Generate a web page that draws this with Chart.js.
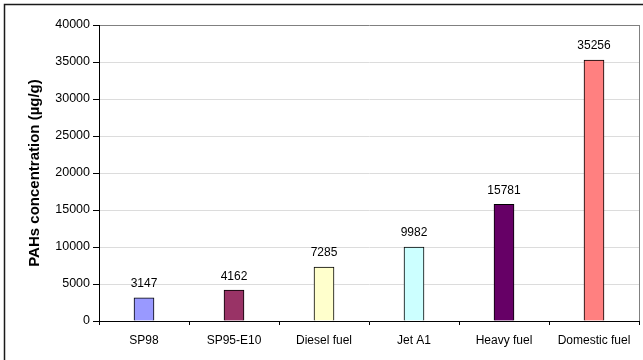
<!DOCTYPE html>
<html><head><meta charset="utf-8">
<script src="https://cdn.jsdelivr.net/npm/chart.js@4/dist/chart.umd.min.js"></script>
<style>html,body{margin:0;padding:0;background:#fff;}#wrap{width:643px;height:360px;}</style>
</head><body><div id="wrap"><canvas id="c" width="643" height="360"></canvas></div>
<script>
const categories = ["SP98", "SP95-E10", "Diesel fuel", "Jet A1", "Heavy fuel", "Domestic fuel"];
const values = [3147, 4162, 7285, 9982, 15781, 35256];
const barColors = ["#9999FF", "#993366", "#FFFFCC", "#CCFFFF", "#660066", "#FF8080"];
const yTicks = [0, 5000, 10000, 15000, 20000, 25000, 30000, 35000, 40000];
const yTitle = "PAHs concentration (µg/g)";

const FONT = "Arial, 'Liberation Sans', sans-serif";

const framePlugin = {
  id: 'frame',
  beforeDraw(chart) {
    const c = chart.ctx;
    c.save();
    c.fillStyle = '#fff';
    c.fillRect(0, 0, chart.width, chart.height);
    c.restore();
  },
  afterDraw(chart) {
    const c = chart.ctx, a = chart.chartArea;
    c.save();
    c.strokeStyle = '#808080';
    c.lineWidth = 1;
    c.beginPath();
    c.moveTo(Math.round(a.right) + 0.5, a.top);
    c.lineTo(Math.round(a.right) + 0.5, a.bottom);
    c.stroke();
    c.strokeStyle = '#1a1a1a';
    c.lineWidth = 1.5;
    c.strokeRect(4.5, 4.5, chart.width + 20, chart.height + 20);
    c.fillStyle = '#000';
    c.font = '12px ' + FONT;
    c.textAlign = 'center';
    c.textBaseline = 'middle';
    const meta = chart.getDatasetMeta(0);
    meta.data.forEach((bar, i) => {
      c.fillText(String(values[i]), bar.x, bar.y - 14);
    });
    c.restore();
  }
};

new Chart(document.getElementById('c'), {
  type: 'bar',
  data: {
    labels: categories,
    datasets: [{
      data: values,
      backgroundColor: barColors,
      borderColor: '#000',
      borderWidth: 1,
      barThickness: 20
    }]
  },
  options: {
    responsive: false,
    animation: false,
    devicePixelRatio: 1,
    layout: { padding: { left: 0, top: 25, right: 4, bottom: 0 } },
    plugins: { legend: { display: false }, tooltip: { enabled: false } },
    scales: {
      x: {
        grid: { display: true, drawOnChartArea: false, drawTicks: true, tickLength: 4, tickColor: '#000', offset: true },
        border: { color: '#000', width: 1 },
        ticks: { color: '#000', font: { family: FONT, size: 12 }, padding: 8, maxRotation: 0, autoSkip: false },
        afterFit(s) { s.height = 39; }
      },
      y: {
        min: 0, max: 40000,
        afterBuildTicks(s) { s.ticks = yTicks.map(v => ({ value: v })); },
        grid: {
          color: ctx => (ctx.tick && ctx.tick.value === 40000) ? '#808080' : '#dcdcdc',
          tickColor: '#000', tickLength: 6, drawTicks: true
        },
        border: { color: '#000', width: 1 },
        ticks: { color: '#000', font: { family: FONT, size: 12.5 }, padding: 3, callback: v => String(v) },
        title: { display: true, text: yTitle, color: '#000', font: { family: FONT, size: 15, weight: 'bold' }, padding: { top: 26, bottom: 0 } },
        afterFit(s) { s.width = 99; }
      }
    }
  },
  plugins: [framePlugin]
});
</script>
</body></html>
